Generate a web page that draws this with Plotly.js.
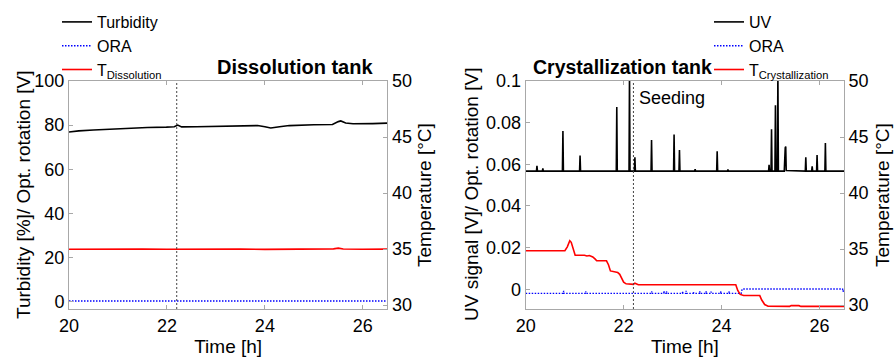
<!DOCTYPE html>
<html>
<head>
<meta charset="utf-8">
<script src="https://cdn.plot.ly/plotly-3.0.1.min.js"></script>
<style>html,body{margin:0;padding:0;background:#fff;}#chart{width:894px;height:359px;}</style>
</head>
<body>
<div id="chart"></div>
<script>
// ---------- Data ----------
const seedingTime = 22.2;

// Dissolution tank
const turbTime = [20.0, 20.2, 20.5, 20.8, 21.0, 21.3, 21.6, 21.99, 22.15, 22.22, 22.3, 22.6, 23.0, 23.4, 23.85, 24.0, 24.12, 24.3, 24.5, 25.0, 25.38, 25.5, 25.55, 25.65, 25.8, 26.2, 26.5];
const turbidity = [76.9, 77.4, 77.8, 78.1, 78.3, 78.8, 78.9, 79.1, 79.3, 80.0, 79.2, 79.3, 79.4, 79.5, 79.8, 79.3, 78.7, 79.3, 79.8, 80.2, 80.3, 81.6, 81.9, 81.0, 80.6, 80.7, 80.9];
const oraDisTime = [20.0, 21.0, 22.0, 23.0, 24.0, 25.0, 26.0, 26.5];
const oraDis = [0.3, 0.3, 0.3, 0.3, 0.3, 0.3, 0.3, 0.3];
const tDisTime = [20.0, 20.5, 21.0, 21.5, 22.0, 22.5, 23.0, 23.5, 24.0, 24.5, 25.0, 25.4, 25.5, 25.6, 26.0, 26.5];
const tDis = [34.98, 35.0, 34.97, 34.99, 34.98, 35.0, 34.98, 34.99, 34.97, 34.98, 34.99, 35.02, 35.08, 35.0, 34.98, 34.99];

// Crystallization tank
const uvTime = [20.00, 20.22, 20.23, 20.24, 20.34, 20.35, 20.36, 20.75, 20.76, 20.77, 21.10, 21.11, 21.12,
  21.85, 21.86, 21.87, 22.11, 22.12, 22.13, 22.22, 22.23, 22.24, 22.56, 22.57, 22.58, 23.02, 23.03, 23.04,
  23.13, 23.14, 23.15, 23.45, 23.46, 23.47, 23.90, 23.91, 23.92, 24.12, 24.13, 24.14, 24.96, 24.97, 24.98,
  25.01, 25.02, 25.03, 25.09, 25.10, 25.11, 25.14, 25.15, 25.16, 25.28, 25.29, 25.30, 25.31, 25.32,
  25.71, 25.72, 25.73, 25.84, 25.85, 25.86, 25.94, 25.95, 25.96, 26.11, 26.12, 26.13, 26.50];
const uvSignal = [0.0567, 0.0567, 0.0593, 0.0567, 0.0567, 0.0580, 0.0567, 0.0567, 0.0760, 0.0567, 0.0567, 0.0642, 0.0567,
  0.0567, 0.0875, 0.0567, 0.0567, 0.1050, 0.0567, 0.0567, 0.0634, 0.0567, 0.0567, 0.0717, 0.0567, 0.0567, 0.0743, 0.0567,
  0.0567, 0.0669, 0.0567, 0.0567, 0.0577, 0.0567, 0.0567, 0.0663, 0.0567, 0.0567, 0.0575, 0.0567, 0.0567, 0.0598, 0.0567,
  0.0567, 0.0768, 0.0567, 0.0567, 0.0883, 0.0567, 0.0567, 0.1050, 0.0567, 0.0567, 0.0670, 0.0680, 0.0685, 0.0570,
  0.0567, 0.0634, 0.0567, 0.0567, 0.0590, 0.0567, 0.0567, 0.0645, 0.0567, 0.0567, 0.0702, 0.0567, 0.0567];
const oraCryTime = [20.0, 20.77, 20.775, 20.78, 21.22, 21.225, 21.23, 22.57, 22.575, 22.58, 22.82, 22.825, 22.83,
  22.87, 22.875, 22.88, 23.2, 23.205, 23.21, 23.27, 23.275, 23.28, 23.42, 23.425, 23.43, 23.55, 23.555, 23.56,
  23.68, 23.685, 23.69, 23.78, 23.785, 23.79, 23.98, 23.985, 23.99, 24.15, 24.155, 24.16, 24.40, 24.42, 26.47, 26.48, 26.5];
const oraCry = [-0.0020, -0.0020, -0.0008, -0.0020, -0.0020, -0.0010, -0.0020, -0.0020, -0.0010, -0.0020, -0.0020, -0.0008, -0.0020,
  -0.0020, -0.0010, -0.0020, -0.0020, -0.0010, -0.0020, -0.0020, -0.0008, -0.0020, -0.0020, -0.0012, -0.0020, -0.0020, -0.0010, -0.0020,
  -0.0020, -0.0010, -0.0020, -0.0020, -0.0012, -0.0020, -0.0020, -0.0010, -0.0020, -0.0020, -0.0010, -0.0020, -0.0020, 0.0001, 0.0001, -0.0012, 0.0001];
const tCryTime = [20.0, 20.3, 20.5, 20.8, 20.85, 20.9, 20.93, 20.97, 21.01, 21.2, 21.25, 21.3, 21.37, 21.42, 21.45, 21.65, 21.69, 21.73,
  21.8, 21.88, 21.92, 21.96, 22.0, 22.05, 22.13, 22.2, 22.23, 22.3, 23.0, 24.0, 24.29, 24.33, 24.38, 24.45, 24.78, 24.82, 24.88, 24.95,
  25.2, 25.39, 25.42, 25.58, 25.62, 26.5];
const tCry = [34.85, 34.85, 34.87, 34.85, 35.2, 35.75, 35.6, 35.0, 34.45, 34.45, 34.38, 34.42, 34.3, 34.1, 33.95, 33.95, 33.6, 33.05,
  32.95, 32.9, 32.75, 32.35, 32.05, 31.9, 31.85, 31.85, 31.95, 31.82, 31.82, 31.82, 31.82, 31.3, 30.95, 30.85, 30.85, 30.45, 30.05, 29.9,
  29.88, 29.88, 29.95, 29.95, 29.88, 29.88];

// Tick labels
const timeTicks = [20, 22, 24, 26];
const turbTicks = [0, 20, 40, 60, 80, 100];
const tempTicks = [30, 35, 40, 45, 50];
const uvTicks = [0, 0.02, 0.04, 0.06, 0.08, 0.1];
const uvTickText = ['0', '0.02', '0.04', '0.06', '0.08', '0.1'];

// ---------- Styling ----------
const FONT = '"Liberation Sans", Arial, Helvetica, sans-serif';
const FRAME = '#a8a8a8';
const ORA_DASH = '1.5px,1.5px';
const PLOT_L = 69, PLOT_W = 775, PLOT_TOP = 81, PLOT_BOTTOM = 309, PLOT_H = PLOT_BOTTOM - PLOT_TOP;
const py = (pix) => (PLOT_BOTTOM - pix) / PLOT_H; // pixel row -> paper y
const px = (pix) => (pix - PLOT_L) / PLOT_W;       // pixel column -> paper x

function xAx(domain, anchor) {
  return {
    domain: domain, anchor: anchor, range: [20, 26.5], tickvals: timeTicks, automargin: false,
    ticks: 'inside', ticklen: 4, tickcolor: FRAME, showline: true, linecolor: FRAME, linewidth: 1,
    mirror: 'ticks', showgrid: false, zeroline: false,
    tickfont: {size: 18, color: '#000'},
    title: {text: 'Time [h]', font: {size: 19, color: '#000'}, standoff: 5}
  };
}
function yAx(range, vals, text, anchor, side, overlay) {
  const a = {
    anchor: anchor, range: range, tickvals: vals, side: side, automargin: false,
    ticks: 'inside', ticklen: 4, tickcolor: FRAME, showline: true, linecolor: FRAME, linewidth: 1,
    showgrid: false, zeroline: false,
    tickfont: {size: 18, color: '#000'}
  };
  if (text) a.ticktext = text;
  if (overlay) a.overlaying = overlay; else a.domain = [0, 1];
  return a;
}
function yTitle(text, pixX) {
  return {text: text, xref: 'paper', yref: 'paper', x: px(pixX), y: 0.5, xanchor: 'center', yanchor: 'middle',
    textangle: -90, showarrow: false, font: {size: 19, color: '#000'}};
}

const traces = [
  {x: turbTime, y: turbidity, xaxis: 'x', yaxis: 'y', mode: 'lines', name: 'Turbidity', line: {color: '#000', width: 1.6}, legend: 'legend'},
  {x: oraDisTime, y: oraDis, xaxis: 'x', yaxis: 'y', mode: 'lines', name: 'ORA', line: {color: '#0000ff', width: 1.4, dash: ORA_DASH}, legend: 'legend'},
  {x: tDisTime, y: tDis, xaxis: 'x', yaxis: 'y2', mode: 'lines', name: 'T<sub>Dissolution</sub>', line: {color: '#ff0000', width: 1.6}, legend: 'legend'},
  {x: uvTime, y: uvSignal, xaxis: 'x2', yaxis: 'y3', mode: 'lines', name: 'UV', line: {color: '#000', width: 1.6}, legend: 'legend2'},
  {x: oraCryTime, y: oraCry, xaxis: 'x2', yaxis: 'y3', mode: 'lines', name: 'ORA', line: {color: '#0000ff', width: 1.4, dash: ORA_DASH}, legend: 'legend2'},
  {x: tCryTime, y: tCry, xaxis: 'x2', yaxis: 'y4', mode: 'lines', name: 'T<sub>Crystallization</sub>', line: {color: '#ff0000', width: 1.6}, legend: 'legend2'}
];

const legendBase = {
  font: {family: FONT, size: 16, color: '#000'}, bgcolor: 'rgba(0,0,0,0)', borderwidth: 0,
  xref: 'container', yref: 'container', xanchor: 'left', yanchor: 'top', tracegroupgap: 0, itemwidth: 30
};

const layout = {
  width: 894, height: 359,
  margin: {l: PLOT_L, r: 894 - PLOT_L - PLOT_W, t: PLOT_TOP, b: 359 - PLOT_BOTTOM, pad: 0, autoexpand: false},
  paper_bgcolor: '#fff', plot_bgcolor: '#fff',
  font: {family: FONT, size: 18, color: '#000'},
  showlegend: true,
  legend: Object.assign({}, legendBase, {x: 57 / 894, y: 1 - 5 / 359}),
  legend2: Object.assign({}, legendBase, {x: 709 / 894, y: 1 - 5 / 359}),
  xaxis: xAx([0, px(387.3)], 'y'),
  yaxis: yAx([-3.3, 100], turbTicks, null, 'x', 'left'),
  yaxis2: yAx([29.65, 50], tempTicks, null, 'x', 'right', 'y'),
  xaxis2: xAx([px(525.7), 1], 'y3'),
  yaxis3: yAx([-0.0095, 0.1], uvTicks, uvTickText, 'x2', 'left'),
  yaxis4: yAx([29.65, 50], tempTicks, null, 'x2', 'right', 'y3'),
  shapes: [
    {type: 'line', xref: 'x', yref: 'y domain', x0: seedingTime, x1: seedingTime, y0: 0, y1: 1, line: {color: '#444', width: 1, dash: '2px,2px'}},
    {type: 'line', xref: 'x2', yref: 'y3 domain', x0: seedingTime, x1: seedingTime, y0: 0, y1: 1, line: {color: '#444', width: 1, dash: '2px,2px'}}
  ],
  annotations: [
    {text: '<b>Dissolution tank</b>', xref: 'paper', yref: 'paper', x: px(294.5), y: py(67), xanchor: 'center', yanchor: 'middle', showarrow: false, font: {size: 20, color: '#000'}},
    {text: '<b>Crystallization tank</b>', xref: 'paper', yref: 'paper', x: px(622), y: py(67), xanchor: 'center', yanchor: 'middle', showarrow: false, font: {size: 19.5, color: '#000'}},
    {text: 'Seeding', xref: 'x2', yref: 'y3', x: seedingTime, y: 0.0917, xanchor: 'left', yanchor: 'middle', xshift: 4, showarrow: false, font: {size: 18, color: '#000'}},
    yTitle('Turbidity [%]/ Opt. rotation [V]', 23),
    yTitle('Temperature [°C]', 424),
    yTitle('UV signal [V]/ Opt. rotation [V]', 471),
    yTitle('Temperature [°C]', 882)
  ]
};

Plotly.newPlot('chart', traces, layout, {staticPlot: true, displayModeBar: false});
</script>
</body>
</html>
